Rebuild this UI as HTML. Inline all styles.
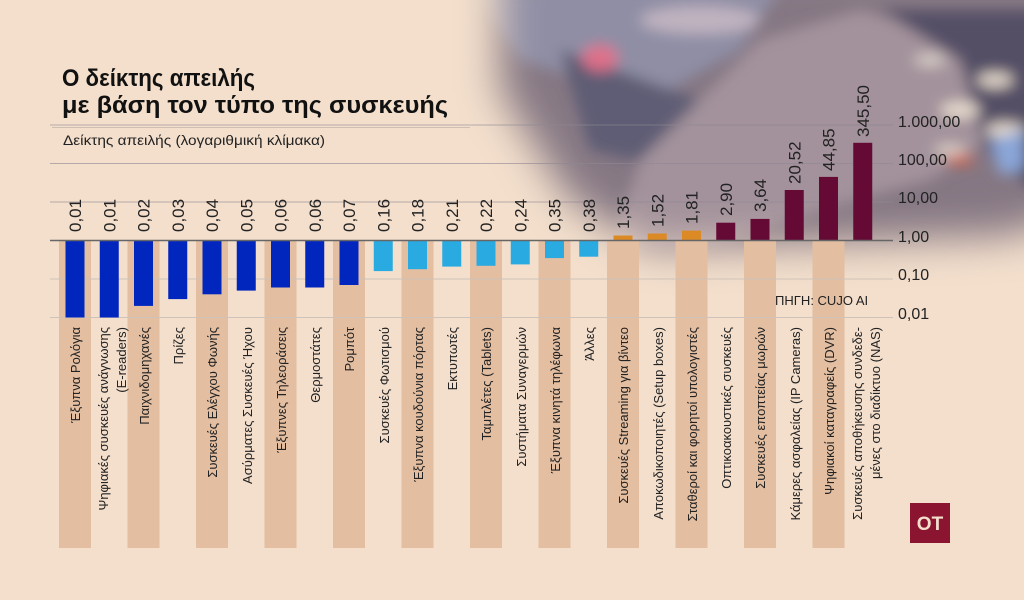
<!DOCTYPE html>
<html><head><meta charset="utf-8"><style>
html,body{margin:0;padding:0;background:#f3dfcc;}
svg{display:block;font-family:"Liberation Sans","DejaVu Sans",sans-serif;}
</style></head><body>
<svg width="1024" height="600" viewBox="0 0 1024 600" xmlns="http://www.w3.org/2000/svg">
<defs>
<filter id="b8" x="-20%" y="-20%" width="140%" height="140%"><feGaussianBlur stdDeviation="7"/></filter>
<filter id="b20" x="-40%" y="-40%" width="180%" height="180%"><feGaussianBlur stdDeviation="20"/></filter>
<mask id="pm" maskUnits="userSpaceOnUse" x="0" y="-50" width="1100" height="400">
<polygon points="500,-40 1080,-40 1080,210 1010,236 650,248 570,200 500,90" fill="#fff" filter="url(#b20)"/>
</mask>
</defs>
<rect width="1024" height="600" fill="#f3dfcc"/>
<!-- photo -->
<g mask="url(#pm)">
<rect x="440" y="-30" width="620" height="360" fill="#857783"/>
<g filter="url(#b8)">
<polygon points="470,-10 780,-10 740,50 650,100 520,60" fill="#8f8ea5"/>
<polygon points="560,50 700,100 680,170 590,150" fill="#5f5d74"/>
<ellipse cx="600" cy="58" rx="18" ry="13" fill="#e0708a"/>
<polygon points="640,160 760,40 860,10 960,40 1010,90 990,140 930,180 820,210 700,250 610,250" fill="#a3929b"/>
<polygon points="880,10 1060,10 1060,210 985,150 960,60" fill="#545066"/>
<ellipse cx="960" cy="110" rx="20" ry="8" fill="#e8dccf"/>
<ellipse cx="995" cy="80" rx="18" ry="7" fill="#e8dccf"/>
<ellipse cx="930" cy="60" rx="16" ry="6" fill="#d9cfc8"/>
<ellipse cx="1005" cy="130" rx="20" ry="7" fill="#e8dccf"/>
<ellipse cx="950" cy="150" rx="16" ry="6" fill="#d8cdc6"/>
<ellipse cx="960" cy="160" rx="14" ry="5" fill="#d8603a"/>
<polygon points="990,140 1024,130 1024,170 1000,175" fill="#8aa6d8"/>
<ellipse cx="700" cy="20" rx="60" ry="14" fill="#c0b3c0"/>
</g>
</g>
<!-- title -->
<text x="62" y="86" font-size="24" font-weight="bold" fill="#111" textLength="193" lengthAdjust="spacingAndGlyphs">Ο δείκτης απειλής</text>
<text x="62" y="113" font-size="24" font-weight="bold" fill="#111" textLength="386" lengthAdjust="spacingAndGlyphs">με βάση τον τύπο της συσκευής</text>
<line x1="52" y1="127.5" x2="470" y2="127.5" stroke="#cdbfb2" stroke-width="1"/>
<text x="63" y="145" font-size="14" fill="#222" textLength="262" lengthAdjust="spacingAndGlyphs">Δείκτης απειλής (λογαριθμική κλίμακα)</text>
<!-- stripes -->
<g fill="#e3bea1">
<rect x="59" y="241" width="32" height="307"/><rect x="127.5" y="241" width="32" height="307"/><rect x="196" y="241" width="32" height="307"/><rect x="264.5" y="241" width="32" height="307"/><rect x="333" y="241" width="32" height="307"/><rect x="401.5" y="241" width="32" height="307"/><rect x="470" y="241" width="32" height="307"/><rect x="538.5" y="241" width="32" height="307"/><rect x="607" y="241" width="32" height="307"/><rect x="675.5" y="241" width="32" height="307"/><rect x="744" y="241" width="32" height="307"/><rect x="812.5" y="241" width="32" height="307"/>
</g>
<!-- grid -->
<g stroke="#8f8893" stroke-width="1" opacity="0.6">
<line x1="50" y1="125" x2="893" y2="125"/><line x1="50" y1="163.5" x2="893" y2="163.5"/><line x1="50" y1="202" x2="893" y2="202"/>
</g>
<g stroke="#cfc3b9" stroke-width="1">
<line x1="50" y1="279" x2="893" y2="279"/><line x1="50" y1="317.5" x2="893" y2="317.5"/>
</g>
<!-- bars -->
<g fill="#0026be">
<rect x="65.5" y="240.5" width="19" height="77"/>
<rect x="99.75" y="240.5" width="19" height="77"/>
<rect x="134" y="240.5" width="19" height="65.4"/>
<rect x="168.25" y="240.5" width="19" height="58.6"/>
<rect x="202.5" y="240.5" width="19" height="53.8"/>
<rect x="236.75" y="240.5" width="19" height="50.1"/>
<rect x="271" y="240.5" width="19" height="47"/>
<rect x="305.25" y="240.5" width="19" height="47"/>
<rect x="339.5" y="240.5" width="19" height="44.5"/>
</g>
<g fill="#29abe2">
<rect x="373.75" y="240.5" width="19" height="30.6"/>
<rect x="408" y="240.5" width="19" height="28.7"/>
<rect x="442.25" y="240.5" width="19" height="26.1"/>
<rect x="476.5" y="240.5" width="19" height="25.3"/>
<rect x="510.75" y="240.5" width="19" height="23.9"/>
<rect x="545" y="240.5" width="19" height="17.6"/>
<rect x="579.25" y="240.5" width="19" height="16.2"/>
</g>
<g fill="#dc8a26">
<rect x="613.5" y="235.5" width="19" height="5"/>
<rect x="647.75" y="233.5" width="19" height="7"/>
<rect x="682" y="230.6" width="19" height="9.9"/>
</g>
<g fill="#650a35">
<rect x="716.25" y="222.7" width="19" height="17.8"/>
<rect x="750.5" y="218.9" width="19" height="21.6"/>
<rect x="784.75" y="190" width="19" height="50.5"/>
<rect x="819" y="176.9" width="19" height="63.6"/>
<rect x="853.25" y="142.8" width="19" height="97.7"/>
</g>
<line x1="50" y1="240.5" x2="893" y2="240.5" stroke="#666" stroke-width="1.5"/>
<!-- axis labels -->
<g font-size="16" fill="#222">
<text x="898" y="127">1.000,00</text>
<text x="898" y="165">100,00</text>
<text x="898" y="203">10,00</text>
<text x="898" y="242">1,00</text>
<text x="898" y="280">0,10</text>
<text x="898" y="319">0,01</text>
</g>
<text x="775" y="305" font-size="13" fill="#222">ΠΗΓΗ: CUJO AI</text>
<!-- value labels -->
<g font-size="17" fill="#222">
<text transform="translate(81,232) rotate(-90)">0,01</text>
<text transform="translate(115.25,232) rotate(-90)">0,01</text>
<text transform="translate(149.5,232) rotate(-90)">0,02</text>
<text transform="translate(183.75,232) rotate(-90)">0,03</text>
<text transform="translate(218,232) rotate(-90)">0,04</text>
<text transform="translate(252.25,232) rotate(-90)">0,05</text>
<text transform="translate(286.5,232) rotate(-90)">0,06</text>
<text transform="translate(320.75,232) rotate(-90)">0,06</text>
<text transform="translate(355,232) rotate(-90)">0,07</text>
<text transform="translate(389.25,232) rotate(-90)">0,16</text>
<text transform="translate(423.5,232) rotate(-90)">0,18</text>
<text transform="translate(457.75,232) rotate(-90)">0,21</text>
<text transform="translate(492,232) rotate(-90)">0,22</text>
<text transform="translate(526.25,232) rotate(-90)">0,24</text>
<text transform="translate(560.5,232) rotate(-90)">0,35</text>
<text transform="translate(594.75,232) rotate(-90)">0,38</text>
<text transform="translate(629,229) rotate(-90)">1,35</text>
<text transform="translate(663.25,227) rotate(-90)">1,52</text>
<text transform="translate(697.5,224) rotate(-90)">1,81</text>
<text transform="translate(731.75,216) rotate(-90)">2,90</text>
<text transform="translate(766,212) rotate(-90)">3,64</text>
<text transform="translate(800.25,184) rotate(-90)">20,52</text>
<text transform="translate(834.5,171) rotate(-90)">44,85</text>
<text transform="translate(868.75,137) rotate(-90)">345,50</text>
</g>
<!-- category labels -->
<g font-size="13" fill="#222" text-anchor="end">
<text transform="translate(80,327) rotate(-90)">Έξυπνα Ρολόγια</text>
<text transform="translate(108,327) rotate(-90)">Ψηφιακές συσκευές ανάγνωσης</text>
<text transform="translate(126,327) rotate(-90)">(E-readers)</text>
<text transform="translate(149,327) rotate(-90)">Παιχνιδομηχανές</text>
<text transform="translate(183,327) rotate(-90)">Πρίζες</text>
<text transform="translate(217,327) rotate(-90)">Συσκευές Ελέγχου Φωνής</text>
<text transform="translate(252,327) rotate(-90)">Ασύρματες Συσκευές Ήχου</text>
<text transform="translate(286,327) rotate(-90)">Έξυπνες Τηλεοράσεις</text>
<text transform="translate(320,327) rotate(-90)">Θερμοστάτες</text>
<text transform="translate(354,327) rotate(-90)">Ρομπότ</text>
<text transform="translate(389,327) rotate(-90)">Συσκευές Φωτισμού</text>
<text transform="translate(423,327) rotate(-90)">Έξυπνα κουδούνια πόρτας</text>
<text transform="translate(457,327) rotate(-90)">Εκτυπωτές</text>
<text transform="translate(491,327) rotate(-90)">Ταμπλέτες (Tablets)</text>
<text transform="translate(526,327) rotate(-90)">Συστήματα Συναγερμών</text>
<text transform="translate(560,327) rotate(-90)">Έξυπνα κινητά τηλέφωνα</text>
<text transform="translate(594,327) rotate(-90)">Άλλες</text>
<text transform="translate(628,327) rotate(-90)">Συσκευές Streaming για βίντεο</text>
<text transform="translate(663,327) rotate(-90)">Αποκωδικοποιητές (Setup boxes)</text>
<text transform="translate(697,327) rotate(-90)">Σταθεροί και φορητοί υπολογιστές</text>
<text transform="translate(731,327) rotate(-90)">Οπτικοακουστικές συσκευές</text>
<text transform="translate(765,327) rotate(-90)">Συσκευές εποπτείας μωρών</text>
<text transform="translate(800,327) rotate(-90)">Κάμερες ασφαλείας (IP Cameras)</text>
<text transform="translate(834,327) rotate(-90)">Ψηφιακοί καταγραφείς (DVR)</text>
<text transform="translate(862,327) rotate(-90)">Συσκευές αποθήκευσης συνδεδε-</text>
<text transform="translate(880,327) rotate(-90)">μένες στο διαδίκτυο (NAS)</text>
</g>
<!-- logo -->
<rect x="910" y="503" width="40" height="40" fill="#8b1530"/>
<text x="930" y="530" font-size="19" font-weight="bold" fill="#f3dfcc" text-anchor="middle">OT</text>
</svg>
</body></html>
